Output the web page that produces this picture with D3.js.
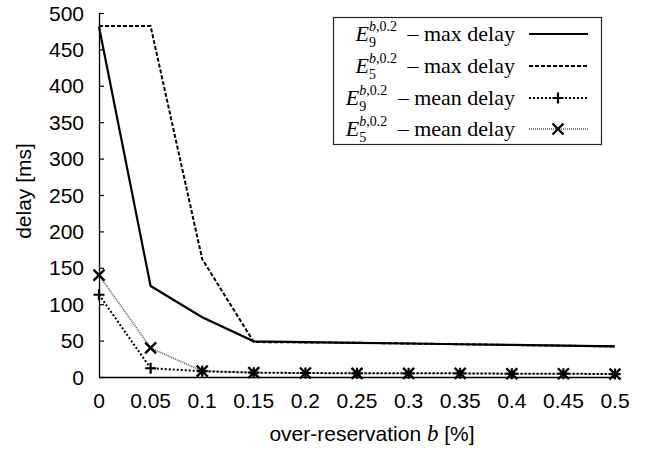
<!DOCTYPE html>
<html>
<head>
<meta charset="utf-8">
<script src="https://cdn.jsdelivr.net/npm/d3@7"></script>
<style>
  body { margin: 0; background: #fff; }
  svg text { fill: #000; }
</style>
</head>
<body>
<div id="chart"></div>
<script>
// over-reservation b values (x axis)
const bValues = [0, 0.05, 0.1, 0.15, 0.2, 0.25, 0.3, 0.35, 0.4, 0.45, 0.5];
const xTickLabels = ["0", "0.05", "0.1", "0.15", "0.2", "0.25", "0.3", "0.35", "0.4", "0.45", "0.5"];
const yTicks = [0, 50, 100, 150, 200, 250, 300, 350, 400, 450, 500];

// delay values [ms]
const e9Max  = [481, 125, 82, 49, 48, 47, 46, 45, 44, 43, 42];
const e5Max  = [482, 482, 162, 48, 47.5, 47, 46, 45, 44, 43, 42];
const e9Mean = [113, 12, 8, 6, 5.5, 5, 5, 5, 4.5, 4.5, 4];
const e5Mean = [140, 40, 8, 6, 5.5, 5, 5, 5, 4.5, 4.5, 4];

const seriesNames = ["max delay", "max delay", "mean delay", "mean delay"];
const seriesSubs = ["9", "5", "9", "5"];

const width = 645;
const height = 454;
const margin = {left: 99, right: 30, top: 13, bottom: 77};

const svg = d3.select("#chart").append("svg")
    .attr("width", width)
    .attr("height", height);

const x = d3.scaleLinear().domain([0, 0.5]).range([margin.left, 615]);
const y = d3.scaleLinear().domain([0, 500]).range([377, margin.top]);

const sansFont = "'Liberation Sans', Arial, sans-serif";
const serifFont = "'Liberation Serif', 'Times New Roman', serif";

// y axis with inward ticks
const yAxis = svg.append("g")
    .attr("transform", `translate(${x(0)},0)`)
    .call(d3.axisRight(y).tickValues(yTicks).tickSize(5).tickFormat(""));
yAxis.select(".domain").attr("d", `M0.5,${y(500)}V${y(0)}`).attr("stroke-width", 1.3);
yAxis.selectAll(".tick line").attr("stroke-width", 1.2);

svg.append("g").selectAll("text")
    .data(yTicks)
    .enter().append("text")
    .attr("x", 84)
    .attr("y", d => y(d) + 7.5)
    .attr("text-anchor", "end")
    .style("font-family", sansFont)
    .style("font-size", "21px")
    .text(d => d);

// x axis line, no ticks
svg.append("line")
    .attr("x1", x(0)).attr("x2", x(0.5))
    .attr("y1", y(0) + 0.5).attr("y2", y(0) + 0.5)
    .attr("stroke", "#000").attr("stroke-width", 1.3);

svg.append("g").selectAll("text")
    .data(bValues)
    .enter().append("text")
    .attr("x", d => x(d))
    .attr("y", 408)
    .attr("text-anchor", "middle")
    .style("font-family", sansFont)
    .style("font-size", "21px")
    .text((d, i) => xTickLabels[i]);

// axis titles
svg.append("text")
    .attr("transform", "translate(31,191) rotate(-90)")
    .attr("text-anchor", "middle")
    .style("font-family", sansFont)
    .style("font-size", "21px")
    .text("delay [ms]");

const xTitle = svg.append("text")
    .attr("x", 372)
    .attr("y", 441)
    .attr("text-anchor", "middle")
    .style("font-family", sansFont)
    .style("font-size", "21px");
xTitle.append("tspan").text("over-reservation ");
xTitle.append("tspan").style("font-family", serifFont).style("font-style", "italic").style("font-size", "23px").text("b");
xTitle.append("tspan").text(" [%]");

// line styles
const styles = [
    {data: e9Max,  width: 2.2, dash: null,  color: "#000", marker: null},
    {data: e5Max,  width: 2.0, dash: "4,2", color: "#000", marker: null},
    {data: e9Mean, width: 2.0, dash: "2,2", color: "#000", marker: "plus"},
    {data: e5Mean, width: 1.6, dash: "1,1", color: "#555", marker: "cross"}
];

const line = d3.line()
    .x((d, i) => x(bValues[i]))
    .y(d => y(d));

const plot = svg.append("g");

function drawMarker(g, kind, cx, cy) {
    const s = 5.5;
    if (kind === "plus") {
        g.append("path")
            .attr("d", `M${cx - s},${cy}H${cx + s}M${cx},${cy - s}V${cy + s}`)
            .attr("stroke", "#000").attr("stroke-width", 2.2);
    } else if (kind === "cross") {
        g.append("path")
            .attr("d", `M${cx - s},${cy - s}L${cx + s},${cy + s}M${cx - s},${cy + s}L${cx + s},${cy - s}`)
            .attr("stroke", "#000").attr("stroke-width", 2.4);
    }
}

styles.slice().reverse().forEach(function(s) {
    plot.append("path")
        .datum(s.data)
        .attr("fill", "none")
        .attr("stroke", s.color)
        .attr("stroke-width", s.width)
        .attr("stroke-dasharray", s.dash)
        .attr("d", line);
    if (s.marker) {
        s.data.forEach(function(v, i) {
            drawMarker(plot, s.marker, x(bValues[i]), y(v));
        });
    }
});

// legend
const legend = svg.append("g");
legend.append("rect")
    .attr("x", 333.5).attr("y", 17.5)
    .attr("width", 268).attr("height", 127)
    .attr("fill", "#fff")
    .attr("stroke", "#222").attr("stroke-width", 1.2);

const rowY = [34, 66, 98, 129];

styles.forEach(function(s, i) {
    const t = legend.append("text")
        .attr("x", 515)
        .attr("y", rowY[i] + 7)
        .attr("text-anchor", "end")
        .style("font-family", serifFont)
        .style("font-size", "22px");
    t.append("tspan").style("font-style", "italic").text("E");
    t.append("tspan").attr("dy", 6).style("font-size", "14px").text(seriesSubs[i]);
    t.append("tspan").attr("dx", -7).attr("dy", -16).style("font-size", "14px")
        .append("tspan").style("font-style", "italic").text("b");
    t.append("tspan").style("font-size", "14px").text(",0.2");
    t.append("tspan").attr("dx", 5).attr("dy", 10).text("\u00a0– " + seriesNames[i]);

    legend.append("line")
        .attr("x1", 529).attr("x2", 588)
        .attr("y1", rowY[i]).attr("y2", rowY[i])
        .attr("stroke", s.color)
        .attr("stroke-width", s.width)
        .attr("stroke-dasharray", s.dash);
    if (s.marker) drawMarker(legend, s.marker, 558, rowY[i]);
});
</script>
</body>
</html>
